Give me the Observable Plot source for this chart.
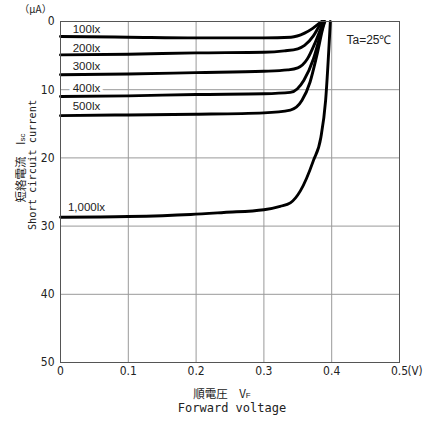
<!DOCTYPE html>
<html><head><meta charset="utf-8">
<script src="https://cdn.jsdelivr.net/npm/d3@7"></script>
<script src="https://cdn.jsdelivr.net/npm/@observablehq/plot@0.6"></script>
<style>body{margin:0;background:#fff} #chart svg{display:block}</style>
</head><body><div id="chart"></div>
<script>
// Illuminance series (photodiode I-V curves)
const luxNames = ["100lx", "200lx", "300lx", "400lx", "500lx", "1,000lx"];
const v100 = [0, 0.1, 0.2, 0.26, 0.3, 0.34, 0.36, 0.372, 0.38, 0.385];
const i100 = [2.2, 2.3, 2.4, 2.4, 2.4, 2.3, 1.7, 1.0, 0.4, 0];
const v200 = [0, 0.1, 0.2, 0.3, 0.33, 0.35, 0.36, 0.373, 0.382, 0.386];
const i200 = [4.9, 4.8, 4.6, 4.5, 4.3, 4.0, 3.5, 2.1, 0.6, 0];
const v300 = [0, 0.1, 0.2, 0.3, 0.335, 0.35, 0.364, 0.376, 0.386, 0.388];
const i300 = [7.8, 7.7, 7.5, 7.3, 7.1, 6.8, 5.5, 3.0, 0.5, 0];
const v400 = [0, 0.1, 0.2, 0.3, 0.339, 0.359, 0.373, 0.383, 0.389];
const i400 = [11.0, 10.9, 10.7, 10.6, 10.4, 8.6, 5.5, 2.05, 0];
const v500 = [0, 0.1, 0.2, 0.3, 0.339, 0.356, 0.368, 0.378, 0.388, 0.39];
const i500 = [13.8, 13.7, 13.6, 13.4, 13.0, 11.6, 8.9, 5.0, 0.6, 0];
const v1000 = [0, 0.1, 0.192, 0.241, 0.3, 0.324, 0.339, 0.354, 0.373, 0.384, 0.391, 0.398];
const i1000 = [28.7, 28.6, 28.3, 28.0, 27.6, 27.1, 26.6, 24.8, 20.4, 17.0, 11.6, 0];

// Curve label anchors (V, µA)
const labelV = [0.018, 0.018, 0.018, 0.018, 0.018, 0.011];
const labelI = [1.2, 3.9, 6.6, 9.75, 12.5, 27.3];

// Axes
const xTicks = [0, 0.1, 0.2, 0.3, 0.4, 0.5];
const xTickLabels = ["0", "0.1", "0.2", "0.3", "0.4", "0.5"];
const yTicks = [0, 10, 20, 30, 40, 50];
const xUnit = "(V)";
const yUnit = "（μA）";
const xTitleJa = "順電圧　VF";
const xTitleEn = "Forward voltage";
const yTitleJa = "短絡電流　Isc";
const yTitleEn = "Short circuit current";
const note = "Ta=25℃";

const seriesV = [v100, v200, v300, v400, v500, v1000];
const seriesI = [i100, i200, i300, i400, i500, i1000];
const rows = [];
seriesV.forEach((vs, k) => vs.forEach((v, j) => rows.push({lux: luxNames[k], v, i: seriesI[k][j]})));
const labels = luxNames.map((name, k) => ({name, v: labelV[k], i: labelI[k]}));

const narrow = "'DejaVu Sans Condensed', 'Liberation Sans', Arial, sans-serif";
const sans = "'Liberation Sans', Arial, sans-serif";
const mono = "'DejaVu Sans Mono', 'Liberation Mono', monospace";
const cjk = "'Noto Sans CJK JP', sans-serif";

const chart = Plot.plot({
  width: 423,
  height: 421,
  marginLeft: 60,
  marginRight: 24,
  marginTop: 21,
  marginBottom: 59,
  style: {fontFamily: narrow, fontSize: "12px", color: "#222", background: "#fff"},
  x: {domain: [0, 0.5]},
  y: {domain: [0, 50], reverse: true},
  marks: [
    Plot.gridX(xTicks.slice(1, -1), {stroke: "#999", strokeOpacity: 1, strokeWidth: 1}),
    Plot.gridY(yTicks.slice(1, -1), {stroke: "#999", strokeOpacity: 1, strokeWidth: 1}),
    Plot.text(labels, {x: "v", y: "i", text: "name", textAnchor: "start", fontFamily: sans, fontSize: 11.5,
      fill: "#222", stroke: "white", strokeWidth: 7, paintOrder: "stroke"}),
    Plot.line(rows, {x: "v", y: "i", z: "lux", stroke: "black", strokeWidth: 2.9, curve: "monotone-x"}),
    Plot.frame({stroke: "#555", strokeWidth: 1}),
    Plot.axisY(yTicks, {tickSize: 0, tickPadding: 6, label: null, fontSize: 12}),
    Plot.axisX(xTicks, {tickSize: 0, tickPadding: 4, label: null, fontSize: 12,
      tickFormat: (d) => xTickLabels[xTicks.indexOf(d)]}),
    Plot.text([xUnit], {x: 0.5, frameAnchor: "bottom", lineAnchor: "middle", dy: 9, dx: 8, textAnchor: "start", fontSize: 11.5}),
    Plot.text([yUnit], {frameAnchor: "top-left", lineAnchor: "middle", dx: -25, dy: -12, textAnchor: "middle", fontFamily: cjk, fontSize: 10}),
    Plot.text([note], {frameAnchor: "top-right", lineAnchor: "middle", dx: -8, dy: 19, textAnchor: "end", fontFamily: sans, fontSize: 12}),
    Plot.text([xTitleJa], {frameAnchor: "bottom", lineAnchor: "middle", dx: -8, dy: 32, fontFamily: cjk, fontSize: 11.5}),
    Plot.text([xTitleEn], {frameAnchor: "bottom", lineAnchor: "middle", dx: 2, dy: 46, fontFamily: mono, fontSize: 12}),
    Plot.text([yTitleJa], {frameAnchor: "left", lineAnchor: "middle", dx: -39, dy: -24, rotate: -90, textAnchor: "middle", fontFamily: cjk, fontSize: 11.5}),
    Plot.text([yTitleEn], {frameAnchor: "left", lineAnchor: "middle", dx: -28, dy: -27, rotate: -90, textAnchor: "middle", fontFamily: mono, fontSize: 10.3})
  ]
});

// small subscripts for V_F and I_sc
d3.select(chart).selectAll("text").each(function() {
  const t = this.textContent;
  if (t === xTitleJa || t === yTitleJa) {
    const base = t === xTitleJa ? t.slice(0, -1) : t.slice(0, -2);
    const sub = t === xTitleJa ? t.slice(-1) : t.slice(-2);
    const el = d3.select(this);
    el.text(null);
    el.append("tspan").text(base);
    el.append("tspan").attr("font-size", 8).attr("font-family", sans).text(sub);
  }
});

document.getElementById("chart").append(chart);
</script>
</body></html>
